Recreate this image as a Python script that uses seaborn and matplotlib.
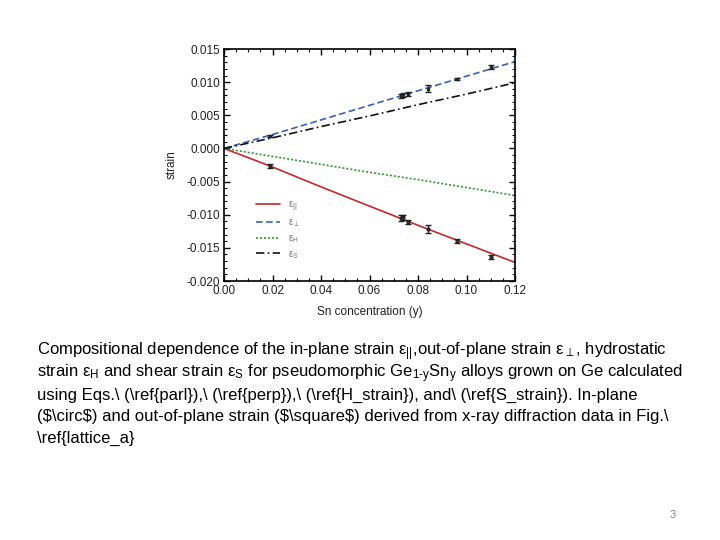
import numpy as np
import pandas as pd
import matplotlib
matplotlib.use("Agg")
import matplotlib.pyplot as plt
from matplotlib.ticker import MultipleLocator
import seaborn as sns

# ---- data ----
x_line = [0.00, 0.02, 0.04, 0.06, 0.08, 0.10, 0.12]
eps_par = [0.0, -0.0028, -0.0058, -0.0087, -0.0116, -0.0144, -0.0172]
eps_perp = [0.0, 0.0021, 0.0043, 0.0065, 0.0087, 0.0109, 0.0131]
eps_h = [0.0, -0.0012, -0.0024, -0.0036, -0.0047, -0.0059, -0.0071]
eps_s = [0.0, 0.0016, 0.0033, 0.0049, 0.0066, 0.0082, 0.0099]

x_data = [0.019, 0.073, 0.074, 0.076, 0.084, 0.096, 0.110]
par_data = [-0.0026, -0.0105, -0.0104, -0.0111, -0.0122, -0.0139, -0.0164]
par_err = [0.0003, 0.0004, 0.0004, 0.0003, 0.0006, 0.0003, 0.0003]
perp_data = [0.0019, 0.0079, 0.0080, 0.0082, 0.0090, 0.0105, 0.0123]
perp_err = [0.0002, 0.0003, 0.0003, 0.0003, 0.0005, 0.0002, 0.0003]

series_names = ["par", "perp", "H", "S"]
legend_labels = [r"$\varepsilon_{||}$", r"$\varepsilon_{\perp}$", r"$\varepsilon_{H}$", r"$\varepsilon_{S}$"]
colors = ["#c8282a", "#3b62b0", "#2f9a2f", "#111111"]
dashes = [(None, None), (4, 2), (1.2, 1.2), (5, 2, 1, 2)]

caption_lines = [
    r"Compositional dependence of the in-plane strain $\mathrm{ε}_{||}$,out-of-plane strain $\mathrm{ε}_{\perp}$, hydrostatic",
    r"strain $\mathrm{ε}_{\mathrm{H}}$ and shear strain $\mathrm{ε}_{\mathrm{S}}$ for pseudomorphic Ge$_{\mathrm{1\text{-}y}}$Sn$_{\mathrm{y}}$ alloys grown on Ge calculated",
    r"using Eqs.\ (\ref{parl}),\ (\ref{perp}),\ (\ref{H_strain}), and\ (\ref{S_strain}). In-plane",
    r"(\$\circ\$) and out-of-plane strain (\$\square\$) derived from x-ray diffraction data in Fig.\ ",
    r"\ref{lattice_a}",
]

sns.set_theme(style="ticks")
plt.rcParams["font.family"] = ["Liberation Sans", "DejaVu Sans"]
plt.rcParams["mathtext.fontset"] = "custom"
plt.rcParams["mathtext.rm"] = "Liberation Sans"
plt.rcParams["mathtext.it"] = "Liberation Sans"

df = pd.DataFrame({"x": x_line * 4,
                   "strain": eps_par + eps_perp + eps_h + eps_s,
                   "series": sum([[n] * len(x_line) for n in series_names], [])})

fig = plt.figure(figsize=(7.2, 5.4), dpi=100)
ax = fig.add_axes([224 / 720, 1 - 281 / 540, 291 / 720, 232 / 540])

sns.lineplot(data=df, x="x", y="strain", hue="series", style="series",
             palette=dict(zip(series_names, colors)),
             dashes=dict(zip(series_names, dashes)),
             linewidth=1.2, ax=ax, legend=False)

ax.errorbar(x_data, par_data, yerr=par_err, fmt="o", ms=2, color="#222222",
            ecolor="#222222", elinewidth=1, capsize=2, mfc="#444444")
ax.errorbar(x_data, perp_data, yerr=perp_err, fmt="s", ms=2, color="#222222",
            ecolor="#222222", elinewidth=1, capsize=2, mfc="#444444")

ax.set_xlim(0, 0.12)
ax.set_ylim(-0.020, 0.015)
ax.xaxis.set_major_locator(MultipleLocator(0.02))
ax.xaxis.set_minor_locator(MultipleLocator(0.005))
ax.yaxis.set_major_locator(MultipleLocator(0.005))
ax.yaxis.set_minor_locator(MultipleLocator(0.001))
ax.xaxis.set_major_formatter(matplotlib.ticker.FormatStrFormatter("%.2f"))
ax.yaxis.set_major_formatter(matplotlib.ticker.FormatStrFormatter("%.3f"))
ax.tick_params(which="both", direction="in", top=True, right=True, labelsize=8.5,
               color="black", labelcolor="#222222")
ax.tick_params(which="major", length=4, width=1, pad=3)
ax.tick_params(which="minor", length=2, width=0.8)
for s in ax.spines.values():
    s.set_linewidth(1.2)
    s.set_color("black")
ax.set_xlabel("Sn concentration (y)", fontsize=8.5, labelpad=6, color="#222222")
ax.set_ylabel("strain", fontsize=8.5, labelpad=6, color="#222222")

handles = [matplotlib.lines.Line2D([], [], color=c, lw=1.2,
                                   dashes=(d if d[0] is not None else []))
           for c, d in zip(colors, dashes)]
leg = ax.legend(handles, legend_labels, loc="lower left", bbox_to_anchor=(0.08, 0.05),
                frameon=False, fontsize=7, handlelength=2.5, labelspacing=0.4,
                labelcolor="#777777")

for i, line in enumerate(caption_lines):
    fig.text(37 / 720, 1 - (352 + i * 21.5) / 540, line, fontsize=12,
             ha="left", va="center", color="black")

fig.text(673 / 720, 1 - 515 / 540, "3", fontsize=8, color="#888888", ha="center", va="center")

fig.savefig("out.png", dpi=100, facecolor="white")
